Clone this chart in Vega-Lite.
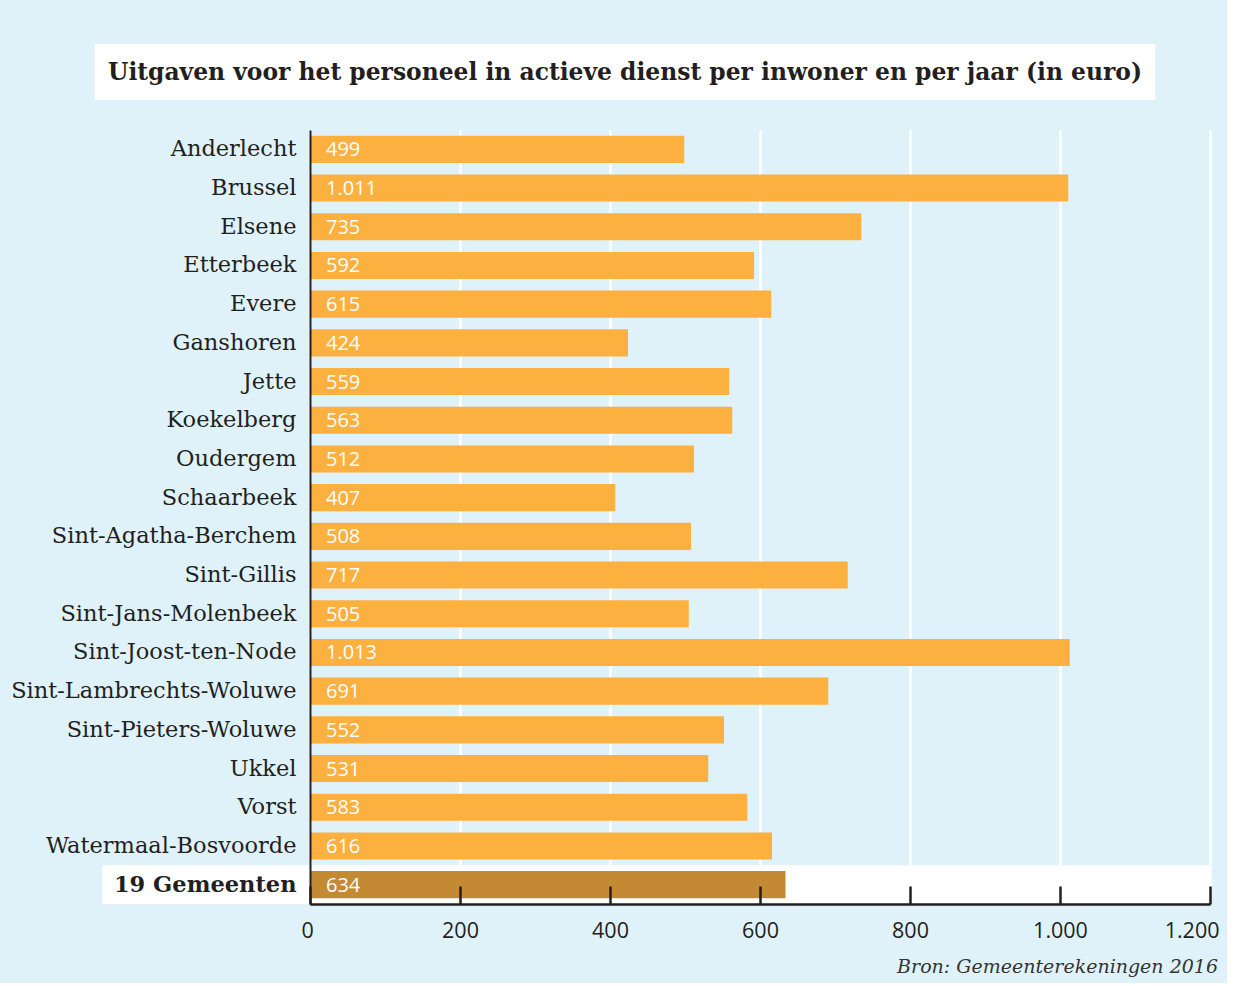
{
  "$schema": "https://vega.github.io/schema/vega-lite/v6.json",
  "background": "#dff2fa",
  "padding": {"top": 44, "left": 10, "right": 8, "bottom": 6},
  "config": {
    "view": {"stroke": null},
    "locale": {"number": {"decimal": ",", "thousands": ".", "grouping": [3], "currency": ["€", ""]}}
  },
  "datasets": {
    "uitgaven": [
      {"gemeente": "Anderlecht", "waarde": 499, "groep": "gemeente"},
      {"gemeente": "Brussel", "waarde": 1011, "groep": "gemeente"},
      {"gemeente": "Elsene", "waarde": 735, "groep": "gemeente"},
      {"gemeente": "Etterbeek", "waarde": 592, "groep": "gemeente"},
      {"gemeente": "Evere", "waarde": 615, "groep": "gemeente"},
      {"gemeente": "Ganshoren", "waarde": 424, "groep": "gemeente"},
      {"gemeente": "Jette", "waarde": 559, "groep": "gemeente"},
      {"gemeente": "Koekelberg", "waarde": 563, "groep": "gemeente"},
      {"gemeente": "Oudergem", "waarde": 512, "groep": "gemeente"},
      {"gemeente": "Schaarbeek", "waarde": 407, "groep": "gemeente"},
      {"gemeente": "Sint-Agatha-Berchem", "waarde": 508, "groep": "gemeente"},
      {"gemeente": "Sint-Gillis", "waarde": 717, "groep": "gemeente"},
      {"gemeente": "Sint-Jans-Molenbeek", "waarde": 505, "groep": "gemeente"},
      {"gemeente": "Sint-Joost-ten-Node", "waarde": 1013, "groep": "gemeente"},
      {"gemeente": "Sint-Lambrechts-Woluwe", "waarde": 691, "groep": "gemeente"},
      {"gemeente": "Sint-Pieters-Woluwe", "waarde": 552, "groep": "gemeente"},
      {"gemeente": "Ukkel", "waarde": 531, "groep": "gemeente"},
      {"gemeente": "Vorst", "waarde": 583, "groep": "gemeente"},
      {"gemeente": "Watermaal-Bosvoorde", "waarde": 616, "groep": "gemeente"},
      {"gemeente": "19 Gemeenten", "waarde": 634, "groep": "totaal"}
    ],
    "titel": [
      {"tekst": "Uitgaven voor het personeel in actieve dienst per inwoner en per jaar (in euro)"}
    ]
  },
  "vconcat": [
    {
      "width": 900,
      "height": 56,
      "data": {"name": "titel"},
      "layer": [
        {
          "mark": {"type": "rect", "fill": "white"},
          "encoding": {
            "x": {"datum": -287, "type": "quantitative", "scale": {"domain": [0, 1200], "nice": false}, "axis": null},
            "x2": {"datum": 1127}
          }
        },
        {
          "mark": {"type": "text", "font": "DejaVu Serif", "fontWeight": "bold", "fontSize": 23.4, "color": "#231f20", "baseline": "middle", "align": "center", "dy": 1},
          "encoding": {
            "x": {"datum": 420, "type": "quantitative", "axis": null},
            "text": {"field": "tekst"}
          }
        }
      ]
    },
    {
      "width": 900,
      "height": 774,
      "data": {"name": "uitgaven"},
      "title": {
        "text": "Bron: Gemeenterekeningen 2016",
        "orient": "bottom",
        "anchor": "end",
        "frame": "group",
        "font": "DejaVu Serif",
        "fontStyle": "italic",
        "fontWeight": "normal",
        "fontSize": 19,
        "color": "#333333",
        "offset": 16,
        "dx": 8
      },
      "resolve": {"axis": {"x": "independent"}},
      "layer": [
        {
          "transform": [{"filter": "datum.groep === 'totaal'"}],
          "mark": {"type": "rect", "fill": "white"},
          "encoding": {
            "x": {
              "datum": -277,
              "type": "quantitative",
              "scale": {"domain": [0, 1200], "nice": false, "zero": true},
              "axis": {
                "orient": "top",
                "grid": true,
                "gridColor": "white",
                "gridWidth": 2.5,
                "gridOpacity": 1,
                "domain": false,
                "ticks": false,
                "labels": false,
                "title": null,
                "values": [0, 200, 400, 600, 800, 1000, 1200],
                "zindex": 0
              }
            },
            "x2": {"datum": 1200},
            "y": {
              "field": "gemeente",
              "type": "nominal",
              "bandPosition": -0.22,
              "scale": {
                "domain": ["Anderlecht", "Brussel", "Elsene", "Etterbeek", "Evere", "Ganshoren", "Jette", "Koekelberg", "Oudergem", "Schaarbeek", "Sint-Agatha-Berchem", "Sint-Gillis", "Sint-Jans-Molenbeek", "Sint-Joost-ten-Node", "Sint-Lambrechts-Woluwe", "Sint-Pieters-Woluwe", "Ukkel", "Vorst", "Watermaal-Bosvoorde", "19 Gemeenten"],
                "paddingInner": 0.3,
                "paddingOuter": 0.15
              },
              "axis": {
                "title": null,
                "ticks": false,
                "domainColor": "#231f20",
                "domainWidth": 2,
                "labelFont": "DejaVu Serif",
                "labelFontSize": 22.5,
                "labelColor": "#231f20",
                "labelPadding": 14,
                "labelLimit": 500,
                "labelFontWeight": {"condition": {"test": "datum.value === '19 Gemeenten'", "value": "bold"}, "value": "normal"},
                "zindex": 1
              }
            },
            "y2": {"field": "gemeente", "bandPosition": 1.22}
          }
        },
        {
          "mark": {"type": "bar"},
          "encoding": {
            "x": {
              "field": "waarde",
              "type": "quantitative",
              "axis": {
                "orient": "bottom",
                "grid": false,
                "domainColor": "#231f20",
                "domainWidth": 2.5,
                "tickColor": "#231f20",
                "tickWidth": 2.5,
                "tickSize": -18,
                "labelPadding": 34,
                "labelFlush": true,
                "labelFlushOffset": 9,
                "labelFont": "Open Sans",
                "labelFontSize": 21.5,
                "labelColor": "#231f20",
                "values": [0, 200, 400, 600, 800, 1000, 1200],
                "title": null,
                "zindex": 1
              }
            },
            "y": {"field": "gemeente", "type": "nominal"},
            "color": {
              "field": "groep",
              "type": "nominal",
              "scale": {"domain": ["gemeente", "totaal"], "range": ["#fbb040", "#c48a33"]},
              "legend": null
            }
          }
        },
        {
          "mark": {"type": "text", "align": "left", "baseline": "middle", "dx": 16, "dy": 1, "font": "Open Sans", "fontSize": 20, "color": "white"},
          "encoding": {
            "x": {"datum": 0, "type": "quantitative", "axis": null},
            "y": {"field": "gemeente", "type": "nominal"},
            "text": {"field": "waarde", "type": "quantitative", "format": ",d"}
          }
        }
      ]
    }
  ],
  "spacing": 30
}
